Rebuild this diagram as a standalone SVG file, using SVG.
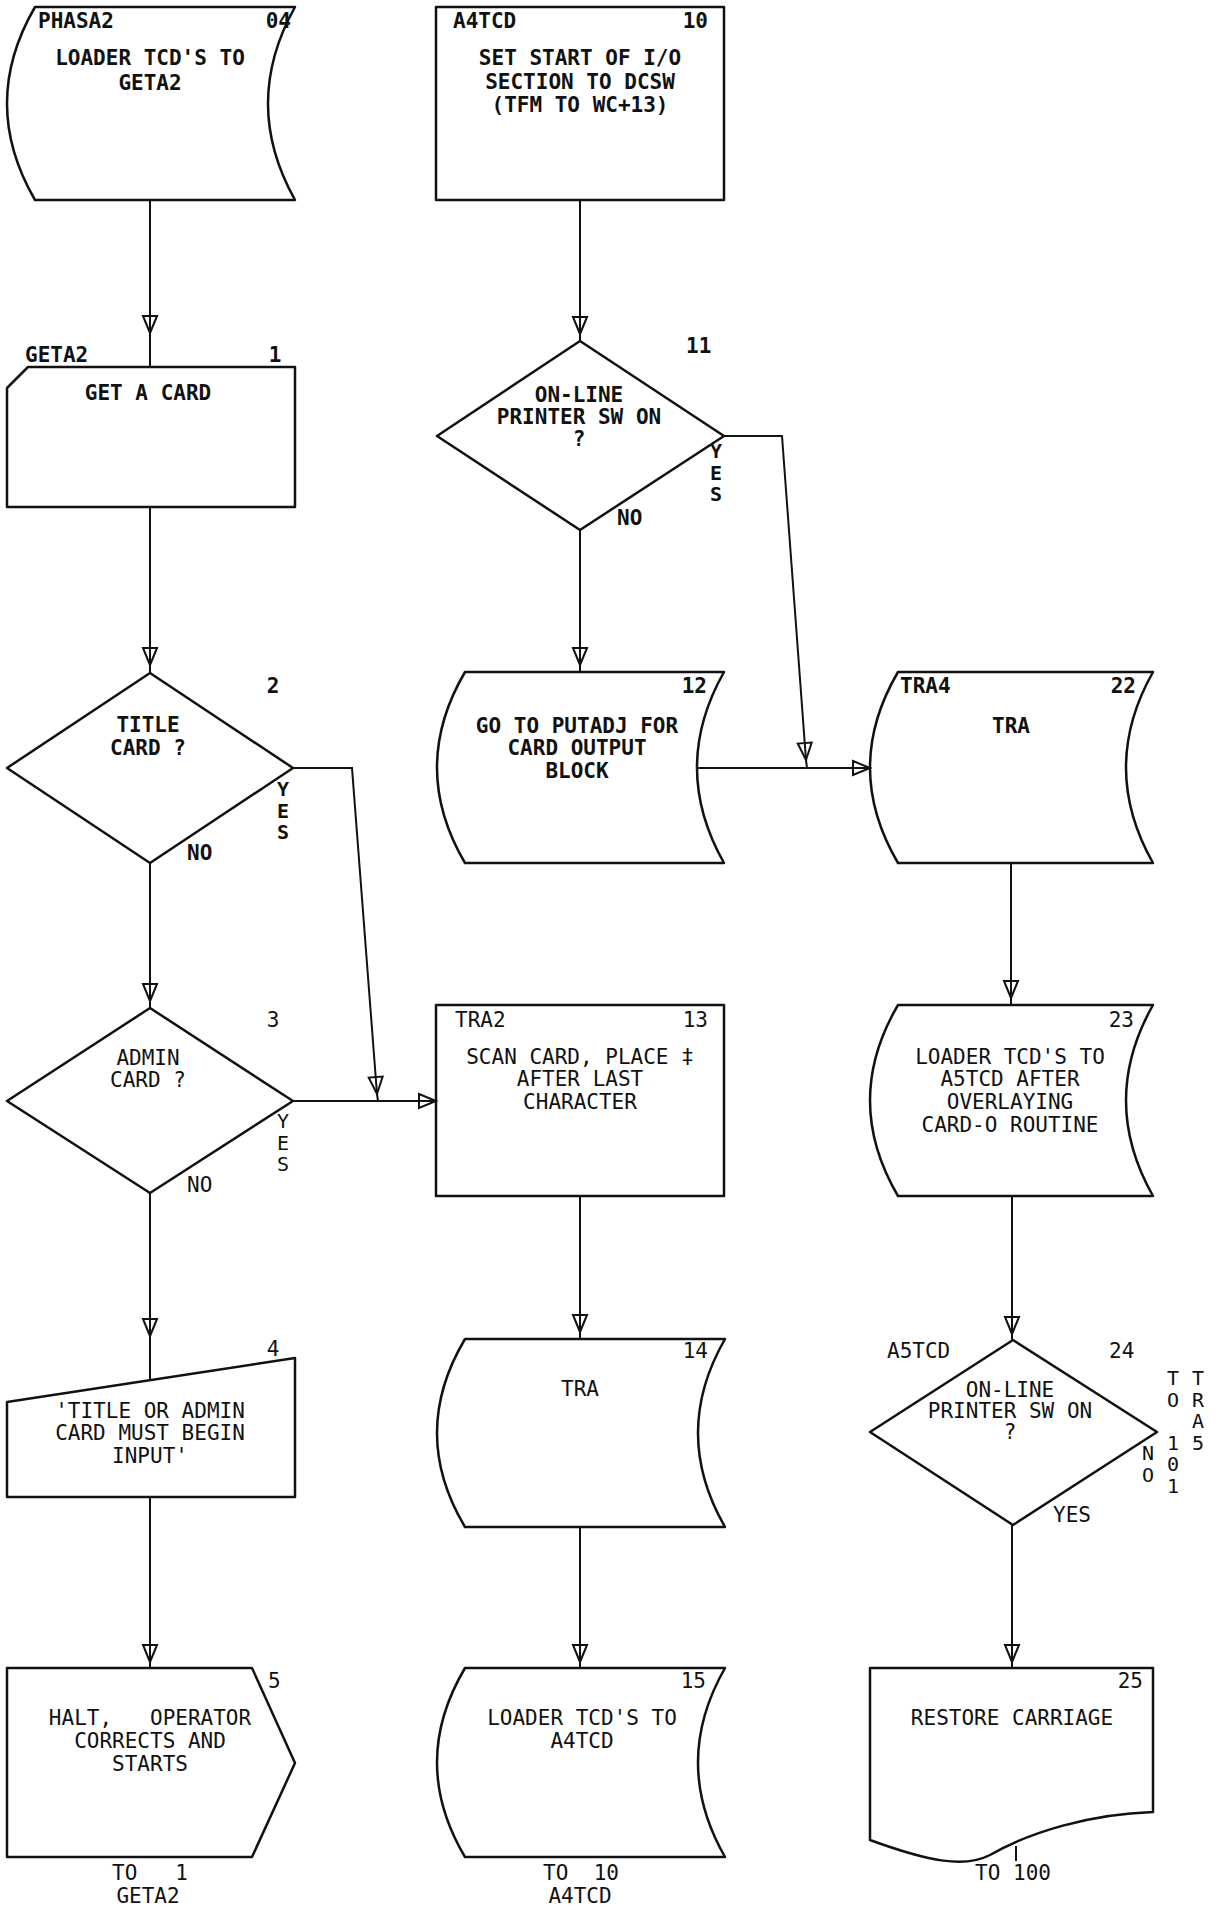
<svg xmlns="http://www.w3.org/2000/svg" width="1216" height="1910" viewBox="0 0 1216 1910">
<style>
.s{fill:none;stroke:#111;stroke-width:2.5;stroke-linejoin:round}
.c{fill:none;stroke:#111;stroke-width:2}
text{font-family:"DejaVu Sans Mono","Liberation Mono",monospace;font-size:21px;fill:#111}
.m{text-anchor:middle}
.e{text-anchor:end}
.b{font-weight:bold}
.v{writing-mode:vertical-rl;text-orientation:upright;font-size:20px;letter-spacing:-2.5px}
</style>
<defs>
<marker id="ah" markerUnits="userSpaceOnUse" markerWidth="24" markerHeight="20" viewBox="-20 -10 24 20" refX="0" refY="0" orient="auto" overflow="visible">
<path d="M-17,-7 L0,0 L-17,7 Z" fill="none" stroke="#111" stroke-width="2"/>
</marker>
</defs>
<rect width="1216" height="1910" fill="#fff"/>

<g id="connectors">
<path class="c" d="M150,200 V333 V367" marker-mid="url(#ah)"/>
<path class="c" d="M150,507 V665 V673" marker-mid="url(#ah)"/>
<path class="c" d="M150,863 V1001 V1008" marker-mid="url(#ah)"/>
<path class="c" d="M150,1193 V1336 V1380" marker-mid="url(#ah)"/>
<path class="c" d="M150,1497 V1662 V1668" marker-mid="url(#ah)"/>
<path class="c" d="M580,200 V334 V341" marker-mid="url(#ah)"/>
<path class="c" d="M580,530 V665 V672" marker-mid="url(#ah)"/>
<path class="c" d="M580,1196 V1332 V1339" marker-mid="url(#ah)"/>
<path class="c" d="M580,1527 V1662 V1668" marker-mid="url(#ah)"/>
<path class="c" d="M1011,863 V998 V1005" marker-mid="url(#ah)"/>
<path class="c" d="M1012,1196 V1334 V1340" marker-mid="url(#ah)"/>
<path class="c" d="M1012,1525 V1662 V1668" marker-mid="url(#ah)"/>
<path class="c" d="M293,1101 H436" marker-end="url(#ah)"/>
<path class="c" d="M293,768 H352 L377,1094" marker-end="url(#ah)"/>
<path class="c" d="M377,1094 L378,1101"/>
<path class="c" d="M697,768 H870" marker-end="url(#ah)"/>
<path class="c" d="M724,436 H782 L806,760" marker-end="url(#ah)"/>
<path class="c" d="M806,760 L807,768"/>
<path class="c" d="M1016,1846 V1861"/>
</g>

<g id="n0">
<path class="s" d="M35,7 H295 Q241,103.5 295,200 H35 Q-21,103.5 35,7 Z"/>
<text class="b" x="38" y="28">PHASA2</text>
<text class="b e" x="291" y="28">04</text>
<text class="b m" x="150" y="65">LOADER TCD'S TO</text>
<text class="b m" x="150" y="90">GETA2</text>
</g>

<g id="n10">
<rect class="s" x="436" y="7" width="288" height="193"/>
<text class="b" x="453" y="28">A4TCD</text>
<text class="b e" x="708" y="28">10</text>
<text class="b m" x="580" y="65">SET START OF I/O</text>
<text class="b m" x="580" y="89">SECTION TO DCSW</text>
<text class="b m" x="580" y="112">(TFM TO WC+13)</text>
</g>

<g id="n1">
<path class="s" d="M28,367 H295 V507 H7 V388 Z"/>
<text class="b" x="25" y="362">GETA2</text>
<text class="b m" x="275" y="362">1</text>
<text class="b m" x="148" y="400">GET A CARD</text>
</g>

<g id="n11">
<path class="s" d="M580,341 L724,436 L580,530 L437,436 Z"/>
<text class="b" x="686" y="353">11</text>
<text class="b m" x="579" y="402">ON-LINE</text>
<text class="b m" x="579" y="424">PRINTER SW ON</text>
<text class="b m" x="579" y="446">?</text>
<text class="b v" x="716" y="439">YES</text>
<text class="b" x="617" y="525">NO</text>
</g>

<g id="n2">
<path class="s" d="M150,673 L293,768 L150,863 L7,768 Z"/>
<text class="b m" x="273" y="693">2</text>
<text class="b m" x="148" y="732">TITLE</text>
<text class="b m" x="148" y="755">CARD ?</text>
<text class="b v" x="283" y="777">YES</text>
<text class="b" x="187" y="860">NO</text>
</g>

<g id="n12">
<path class="s" d="M465,672 H724 Q670,767.5 724,863 H465 Q409,767.5 465,672 Z"/>
<text class="b e" x="707" y="693">12</text>
<text class="b m" x="577" y="733">GO TO PUTADJ FOR</text>
<text class="b m" x="577" y="755">CARD OUTPUT</text>
<text class="b m" x="577" y="778">BLOCK</text>
</g>

<g id="n22">
<path class="s" d="M898,672 H1153 Q1099,767.5 1153,863 H898 Q842,767.5 898,672 Z"/>
<text class="b" x="900" y="693">TRA4</text>
<text class="b e" x="1136" y="693">22</text>
<text class="b m" x="1011" y="733">TRA</text>
</g>

<g id="n3">
<path class="s" d="M150,1008 L293,1101 L150,1193 L7,1101 Z"/>
<text class="m" x="273" y="1027">3</text>
<text class="m" x="148" y="1065">ADMIN</text>
<text class="m" x="148" y="1087">CARD ?</text>
<text class="v" x="283" y="1109">YES</text>
<text x="187" y="1192">NO</text>
</g>

<g id="n13">
<rect class="s" x="436" y="1005" width="288" height="191"/>
<text x="455" y="1027">TRA2</text>
<text class="e" x="708" y="1027">13</text>
<text class="m" x="580" y="1064">SCAN CARD, PLACE ‡</text>
<text class="m" x="580" y="1086">AFTER LAST</text>
<text class="m" x="580" y="1109">CHARACTER</text>
</g>

<g id="n23">
<path class="s" d="M898,1005 H1153 Q1099,1100.5 1153,1196 H898 Q842,1100.5 898,1005 Z"/>
<text class="e" x="1134" y="1027">23</text>
<text class="m" x="1010" y="1064">LOADER TCD'S TO</text>
<text class="m" x="1010" y="1086">A5TCD AFTER</text>
<text class="m" x="1010" y="1109">OVERLAYING</text>
<text class="m" x="1010" y="1132">CARD-O ROUTINE</text>
</g>

<g id="n4">
<path class="s" d="M7,1402 L295,1358 V1497 H7 Z"/>
<text class="m" x="273" y="1356">4</text>
<text class="m" x="150" y="1418">'TITLE OR ADMIN</text>
<text class="m" x="150" y="1440">CARD MUST BEGIN</text>
<text class="m" x="150" y="1463">INPUT'</text>
</g>

<g id="n14">
<path class="s" d="M465,1339 H725 Q671,1433 725,1527 H465 Q409,1433 465,1339 Z"/>
<text class="e" x="708" y="1358">14</text>
<text class="m" x="580" y="1396">TRA</text>
</g>

<g id="n24">
<path class="s" d="M1013,1340 L1157,1432 L1013,1525 L870,1432 Z"/>
<text x="887" y="1358">A5TCD</text>
<text x="1109" y="1358">24</text>
<text class="m" x="1010" y="1397">ON-LINE</text>
<text class="m" x="1010" y="1418">PRINTER SW ON</text>
<text class="m" x="1010" y="1439">?</text>
<text class="v" x="1148" y="1441">NO</text>
<text class="v" x="1173" y="1366" xml:space="preserve">TO 101</text>
<text class="v" x="1198" y="1366">TRA5</text>
<text x="1053" y="1522">YES</text>
</g>

<g id="n5">
<path class="s" d="M7,1668 H252 L295,1763 L252,1857 H7 Z"/>
<text x="268" y="1688">5</text>
<text class="m" x="150" y="1725" xml:space="preserve">HALT,   OPERATOR</text>
<text class="m" x="150" y="1748">CORRECTS AND</text>
<text class="m" x="150" y="1771">STARTS</text>
<text x="112" y="1880" xml:space="preserve">TO   1</text>
<text class="m" x="148" y="1903">GETA2</text>
</g>

<g id="n15">
<path class="s" d="M465,1668 H725 Q671,1762.5 725,1857 H465 Q409,1762.5 465,1668 Z"/>
<text class="e" x="706" y="1688">15</text>
<text class="m" x="582" y="1725">LOADER TCD'S TO</text>
<text class="m" x="582" y="1748">A4TCD</text>
<text class="m" x="581" y="1880" xml:space="preserve">TO  10</text>
<text class="m" x="580" y="1903">A4TCD</text>
</g>

<g id="n25">
<path class="s" d="M870,1668 H1153 V1812 C1090,1814 1030,1832 990,1855 C965,1868 930,1862 870,1840 Z"/>
<text class="e" x="1143" y="1688">25</text>
<text class="m" x="1012" y="1725">RESTORE CARRIAGE</text>
<text class="m" x="1013" y="1880">TO 100</text>
</g>
</svg>
